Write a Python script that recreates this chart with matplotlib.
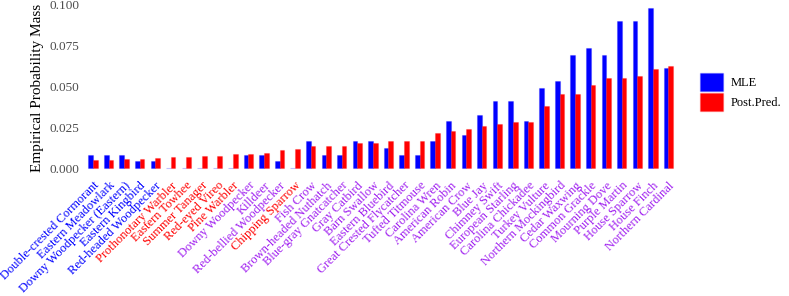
import numpy as np
import matplotlib
matplotlib.use("Agg")
import matplotlib.pyplot as plt
from matplotlib.patches import Patch

plt.rcParams['font.family'] = ['Liberation Serif', 'DejaVu Serif']

species = ["Double-crested Cormorant", "Eastern Meadowlark", "Downy Woodpecker (Eastern)",
           "Eastern Kingbird", "Red-headed Woodpecker", "Prothonotary Warbler", "Eastern Towhee",
           "Summer Tanager", "Red-eyed Vireo", "Pine Warbler", "Downy Woodpecker", "Killdeer",
           "Red-bellied Woodpecker", "Chipping Sparrow", "Fish Crow", "Brown-headed Nuthatch",
           "Blue-gray Gnatcatcher", "Gray Catbird", "Barn Swallow", "Eastern Bluebird",
           "Great Crested Flycatcher", "Tufted Titmouse", "Carolina Wren", "American Robin",
           "American Crow", "Blue Jay", "Chimney Swift", "European Starling", "Carolina Chickadee",
           "Turkey Vulture", "Northern Mockingbird", "Cedar Waxwing", "Common Grackle",
           "Mourning Dove", "Purple Martin", "House Sparrow", "House Finch", "Northern Cardinal"]

# which estimate the species shows up in: blue = MLE only side, red = posterior only, purple = both
label_group = ["b"] * 5 + ["r"] * 5 + ["p"] * 3 + ["r"] + ["p"] * 24

mle = [0.0082, 0.0082, 0.0082, 0.0041, 0.0041, 0, 0, 0, 0, 0,
       0.0082, 0.0082, 0.0041, 0, 0.0163, 0.0082, 0.0082, 0.0163, 0.0163, 0.0122,
       0.0082, 0.0082, 0.0163, 0.0286, 0.0204, 0.0327, 0.0408, 0.0408, 0.0286, 0.0490,
       0.0531, 0.0694, 0.0735, 0.0694, 0.0898, 0.0898, 0.0980, 0.0612]

post_pred = [0.0049, 0.0049, 0.0053, 0.0055, 0.0061, 0.0069, 0.0069, 0.0075, 0.0075, 0.0084,
             0.0086, 0.0090, 0.0108, 0.0114, 0.0133, 0.0135, 0.0137, 0.0151, 0.0153, 0.0163,
             0.0163, 0.0169, 0.0214, 0.0226, 0.0237, 0.0259, 0.0269, 0.0282, 0.0282, 0.0380,
             0.0451, 0.0451, 0.0506, 0.0549, 0.0553, 0.0563, 0.0608, 0.0623]

group_colors = {"b": "#0000FF", "r": "#FF0000", "p": "#A020F0"}

fig = plt.figure(figsize=(7.89, 2.96), dpi=100)
ax = fig.add_axes([0.106, 0.405, 0.753, 0.595])

x = np.arange(1, len(species) + 1)
w = 0.3
ax.bar(x - w / 2, mle, width=w, color="#0000FF", edgecolor=(0, 0, 1, 0.25), linewidth=0.8)
ax.bar(x + w / 2, post_pred, width=w, color="#FF0000", edgecolor=(1, 0, 0, 0.25), linewidth=0.8)

ax.set_xlim(0.4, len(species) + 0.6)
ax.set_ylim(-0.0049, 0.1029)
ax.set_yticks([0, 0.025, 0.05, 0.075, 0.1])
ax.set_yticklabels(["0.000", "0.025", "0.050", "0.075", "0.100"])
ax.set_xticks(x)
ax.set_xticklabels(species, rotation=45, ha="right", rotation_mode="anchor")
for lbl, g in zip(ax.get_xticklabels(), label_group):
    lbl.set_color(group_colors[g])
    lbl.set_fontsize(9)

ax.tick_params(axis="both", length=0)
ax.tick_params(axis="y", labelsize=9.5, labelcolor="#4D4D4D", pad=3)
ax.tick_params(axis="x", pad=2.5)
for s in ax.spines.values():
    s.set_visible(False)
ax.set_ylabel("Empirical Probability Mass", fontsize=11, labelpad=4)

handles = [Patch(facecolor="#0000FF", edgecolor=(0, 0, 1, 0.25)),
           Patch(facecolor="#FF0000", edgecolor=(1, 0, 0, 0.25))]
fig.legend(handles, ["MLE", "Post.Pred."], loc="center left", bbox_to_anchor=(0.879, 0.689),
           frameon=False, fontsize=9, handlelength=1.85, handleheight=1.85,
           labelspacing=0.2, borderpad=0, handletextpad=0.6)

fig.savefig("out.png", dpi=100)
